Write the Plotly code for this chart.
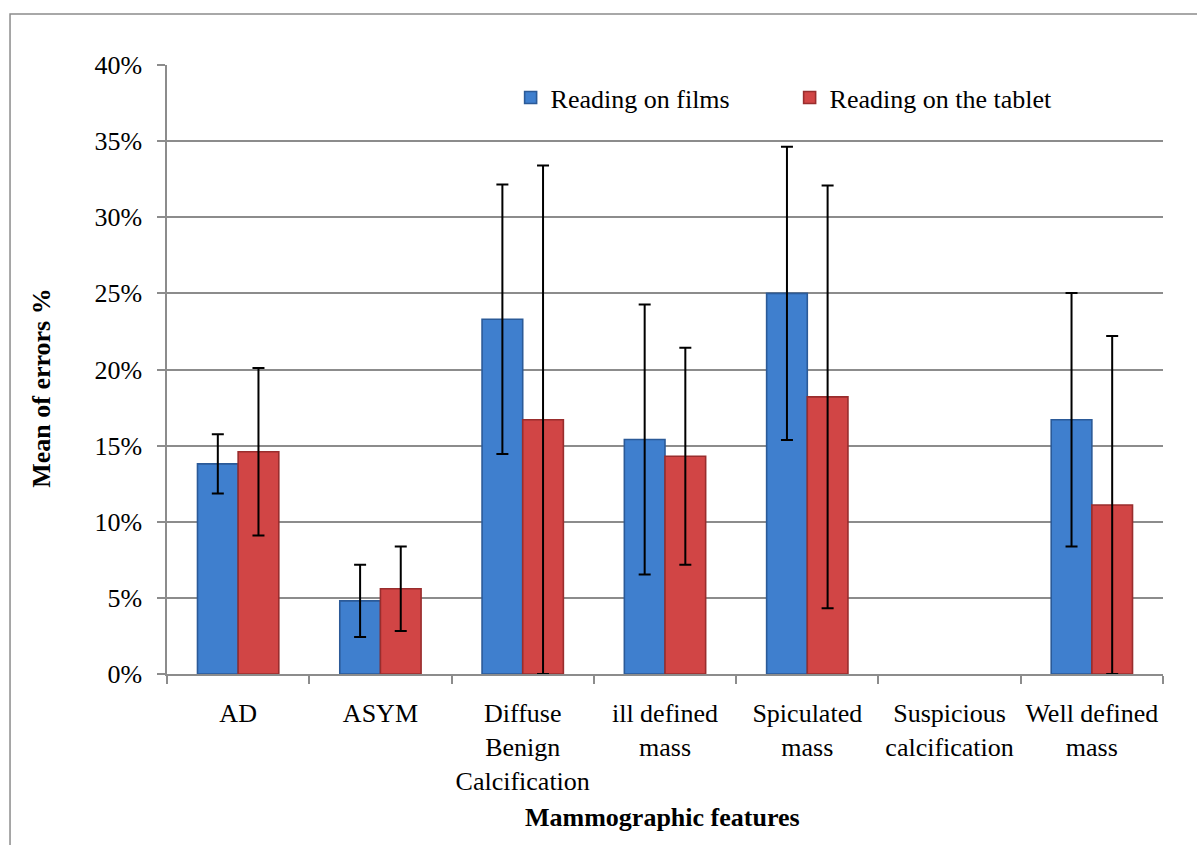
import plotly.graph_objects as go

# Mammographic feature categories (axis labels)
categories = [
    "AD",
    "ASYM",
    "Diffuse<br>Benign<br>Calcification",
    "ill defined<br>mass",
    "Spiculated<br>mass",
    "Suspicious<br>calcification",
    "Well defined<br>mass",
]

# Mean of errors (%) and their error margins
films_mean = [13.8, 4.8, 23.3, 15.4, 25.0, 0.0, 16.7]
films_err = [1.95, 2.37, 8.85, 8.87, 9.63, 0.0, 8.33]
tablet_mean = [14.6, 5.6, 16.7, 14.3, 18.2, 0.0, 11.1]
tablet_err = [5.5, 2.77, 16.7, 7.13, 13.88, 0.0, 11.1]

series_names = ["Reading on films", "Reading on the tablet"]
y_ticks = [0, 5, 10, 15, 20, 25, 30, 35, 40]
y_tick_labels = [f"{v}%" for v in y_ticks]

FONT = "Liberation Serif, Times New Roman, serif"
GRID = "#8c8c8c"


def drawn(values):
    # a zero mean leaves an empty slot: no bar, no error whisker
    return [v if v != 0 else None for v in values]


fig = go.Figure()

fig.add_trace(go.Bar(
    name=series_names[0],
    x=categories,
    y=drawn(films_mean),
    marker=dict(color="#3f7fce", line=dict(color="#2b5a98", width=1.6)),
    error_y=dict(type="data", array=films_err, visible=True,
                 color="black", thickness=2, width=6),
))
fig.add_trace(go.Bar(
    name=series_names[1],
    x=categories,
    y=drawn(tablet_mean),
    marker=dict(color="#d14545", line=dict(color="#992d2d", width=1.6)),
    error_y=dict(type="data", array=tablet_err, visible=True,
                 color="black", thickness=2, width=6),
))

fig.update_layout(
    width=1197,
    height=845,
    margin=dict(l=167, r=34, t=65, b=171, autoexpand=False),
    paper_bgcolor="white",
    plot_bgcolor="white",
    barmode="group",
    bargap=0.4286,
    bargroupgap=0,
    font=dict(family=FONT, size=26, color="black"),
    showlegend=True,
    legend=dict(
        orientation="h",
        x=0.345, xanchor="left",
        y=0.985, yanchor="top",
        bgcolor="rgba(0,0,0,0)",
        font=dict(family=FONT, size=26, color="black"),
        entrywidth=234, entrywidthmode="pixels",
        itemwidth=30,
    ),
    xaxis=dict(
        type="category",
        categoryorder="array",
        categoryarray=categories,
        showline=True, linecolor=GRID, linewidth=1.5,
        ticks="outside", tickson="boundaries", ticklen=8,
        tickcolor=GRID, tickwidth=1.5,
        showgrid=False,
        tickfont=dict(family=FONT, size=26, color="black"),
        tickangle=0,
        ticklabelstandoff=15,
    ),
    yaxis=dict(
        range=[0, 40],
        tickmode="array",
        tickvals=y_ticks,
        ticktext=y_tick_labels,
        showline=True, linecolor=GRID, linewidth=1.5,
        ticks="outside", ticklen=8, tickcolor=GRID, tickwidth=1.5,
        showgrid=True, gridcolor=GRID, gridwidth=1.5,
        zeroline=False,
        tickfont=dict(family=FONT, size=26, color="black"),
        ticklabelstandoff=10,
    ),
    annotations=[
        dict(text="<b>Mean of errors %</b>", xref="paper", yref="paper",
             x=-0.1255, y=0.47, textangle=-90, showarrow=False,
             xanchor="center", yanchor="middle",
             font=dict(family=FONT, size=26, color="black")),
        dict(text="<b>Mammographic features</b>", xref="paper", yref="paper",
             x=0.497, y=-0.236, showarrow=False,
             xanchor="center", yanchor="middle",
             font=dict(family=FONT, size=26, color="black")),
    ],
    shapes=[
        dict(type="rect", xref="paper", yref="paper",
             x0=-0.1576, x1=1.05, y0=-0.30, y1=1.0837,
             line=dict(color=GRID, width=1.5), fillcolor="rgba(0,0,0,0)",
             layer="below"),
    ],
)

fig.write_html("out.html")
